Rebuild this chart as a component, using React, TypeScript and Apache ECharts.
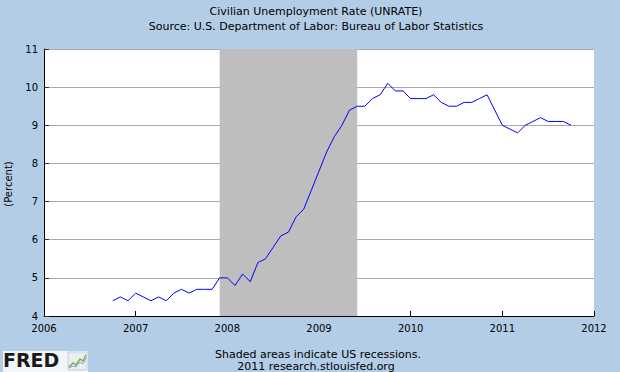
import React, { useEffect, useRef } from 'react';
import * as echarts from 'echarts';

const months: string[] = [
  '2006-10', '2006-11', '2006-12',
  '2007-01', '2007-02', '2007-03', '2007-04', '2007-05', '2007-06', '2007-07', '2007-08', '2007-09', '2007-10', '2007-11', '2007-12',
  '2008-01', '2008-02', '2008-03', '2008-04', '2008-05', '2008-06', '2008-07', '2008-08', '2008-09', '2008-10', '2008-11', '2008-12',
  '2009-01', '2009-02', '2009-03', '2009-04', '2009-05', '2009-06', '2009-07', '2009-08', '2009-09', '2009-10', '2009-11', '2009-12',
  '2010-01', '2010-02', '2010-03', '2010-04', '2010-05', '2010-06', '2010-07', '2010-08', '2010-09', '2010-10', '2010-11', '2010-12',
  '2011-01', '2011-02', '2011-03', '2011-04', '2011-05', '2011-06', '2011-07', '2011-08', '2011-09', '2011-10',
];

const rates: number[] = [
  4.4, 4.5, 4.4,
  4.6, 4.5, 4.4, 4.5, 4.4, 4.6, 4.7, 4.6, 4.7, 4.7, 4.7, 5.0,
  5.0, 4.8, 5.1, 4.9, 5.4, 5.5, 5.8, 6.1, 6.2, 6.6, 6.8, 7.3,
  7.8, 8.3, 8.7, 9.0, 9.4, 9.5, 9.5, 9.7, 9.8, 10.1, 9.9, 9.9,
  9.7, 9.7, 9.7, 9.8, 9.6, 9.5, 9.5, 9.6, 9.6, 9.7, 9.8, 9.4,
  9.0, 8.9, 8.8, 9.0, 9.1, 9.2, 9.1, 9.1, 9.1, 9.0,
];

const recession: [string, string] = ['2007-12', '2009-06'];
const xRange: [number, number] = [2006, 2012];
const yRange: [number, number] = [4, 11];

const titleText = 'Civilian Unemployment Rate (UNRATE)';
const subtitleText = 'Source: U.S. Department of Labor: Bureau of Labor Statistics';
const yAxisName = '(Percent)';
const noteLine1 = 'Shaded areas indicate US recessions.';
const noteLine2 = '2011 research.stlouisfed.org';

const toYear = (s: string): number => {
  const [y, m] = s.split('-').map(Number);
  return y + (m - 1) / 12;
};

const FONT = 'DejaVu Sans';

export default function App() {
  const ref = useRef<HTMLDivElement>(null);

  useEffect(() => {
    document.body.style.margin = '0';
    if (!ref.current) return;
    const chart = echarts.init(ref.current, undefined, { renderer: 'svg' });
    const points = months.map((m, i) => [toYear(m), rates[i]]);

    const option: any = {
      animation: false,
      backgroundColor: '#B3CDE6',
      grid: {
        left: 44, right: 26, top: 49, bottom: 56,
        show: true, backgroundColor: '#FFFFFF', borderWidth: 0,
      },
      xAxis: {
        type: 'value',
        min: xRange[0], max: xRange[1], interval: 1,
        axisLine: { show: true, onZero: false, lineStyle: { color: '#000', width: 1 } },
        axisTick: { show: true, inside: true, length: 5, lineStyle: { color: '#000' } },
        axisLabel: {
          color: '#000', fontFamily: FONT, fontSize: 10, margin: 7,
          formatter: (v: number) => String(v),
          showMinLabel: true, showMaxLabel: true,
        },
        splitLine: { show: false },
      },
      yAxis: {
        type: 'value',
        min: yRange[0], max: yRange[1], interval: 1,
        axisLine: { show: true, onZero: false, lineStyle: { color: '#000', width: 1 } },
        axisTick: { show: true, inside: true, length: 5, lineStyle: { color: '#333' } },
        axisLabel: { color: '#000', fontFamily: FONT, fontSize: 10, margin: 6 },
        splitLine: { show: true, lineStyle: { color: '#AAAAAA', width: 1 } },
      },
      series: [
        {
          type: 'line',
          data: points,
          showSymbol: false,
          symbol: 'none',
          lineStyle: { color: '#0000FF', width: 1 },
          z: 3,
          markArea: {
            silent: true,
            itemStyle: { color: '#BEBEBE', opacity: 1 },
            data: [[{ xAxis: toYear(recession[0]) }, { xAxis: toYear(recession[1]) }]],
          },
        },
      ],
      graphic: [
        {
          type: 'text', x: 316, y: 11,
          style: { text: titleText, fill: '#000', font: `11px "${FONT}"`, align: 'center', verticalAlign: 'middle' },
        },
        {
          type: 'text', x: 316, y: 26,
          style: { text: subtitleText, fill: '#000', font: `11px "${FONT}"`, align: 'center', verticalAlign: 'middle' },
        },
        {
          type: 'text', x: 8, y: 184, rotation: Math.PI / 2,
          style: { text: yAxisName, fill: '#000', font: `10px "${FONT}"`, align: 'center', verticalAlign: 'middle' },
        },
        {
          type: 'text', x: 318, y: 354,
          style: { text: noteLine1, fill: '#000', font: `11px "${FONT}"`, align: 'center', verticalAlign: 'middle' },
        },
        {
          type: 'text', x: 316, y: 366,
          style: { text: noteLine2, fill: '#000', font: `11px "${FONT}"`, align: 'center', verticalAlign: 'middle' },
        },
        {
          type: 'rect', shape: { x: 3, y: 351, width: 85, height: 21 },
          style: { fill: '#F2F5F9' },
        },
        {
          type: 'text', x: 3, y: 360,
          style: { text: 'FRED', fill: '#1A1A1A', font: `bold 19px "${FONT}"`, align: 'left', verticalAlign: 'middle' },
        },
        {
          type: 'rect', shape: { x: 68, y: 352, width: 19, height: 18 },
          style: { fill: '#E9EEF1', stroke: '#C8CED4', lineWidth: 1 },
        },
        {
          type: 'polyline',
          shape: { points: [[69, 367], [73, 363], [76, 365], [80, 359], [83, 361], [86, 355]] },
          style: { stroke: '#79B04A', lineWidth: 1.5, fill: 'none' },
        },
        {
          type: 'polyline',
          shape: { points: [[69, 368], [73, 366], [76, 367], [80, 362], [83, 364], [86, 358]] },
          style: { stroke: '#7FA7D0', lineWidth: 1, fill: 'none' },
        },
      ],
    };

    chart.setOption(option);
    return () => chart.dispose();
  }, []);

  return (
    <div
      ref={ref}
      style={{ position: 'absolute', left: 0, top: 0, width: 620, height: 372 }}
    />
  );
}
